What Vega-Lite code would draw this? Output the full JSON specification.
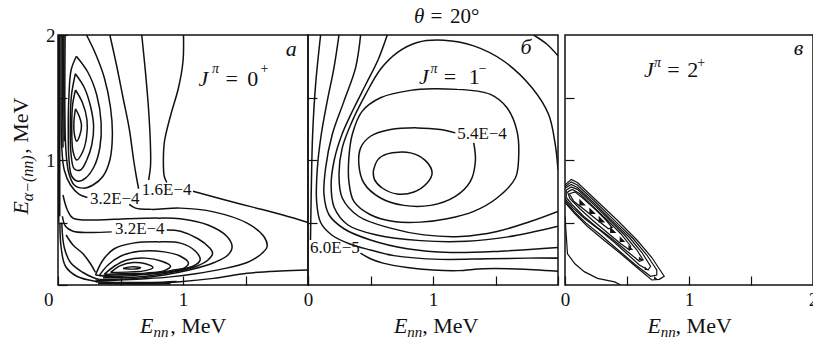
{
  "$schema": "https://vega.github.io/schema/vega-lite/v6.json",
  "background": "white",
  "padding": {"left": 8, "top": 4, "right": 0, "bottom": 0},
  "config": {
    "view": {"stroke": "#111", "strokeWidth": 1.5},
    "axis": {"domain": false, "grid": false, "tickColor": "#111", "tickWidth": 1.2, "labelFont": "Liberation Serif", "labelFontSize": 19, "labelColor": "#111"}
  },
  "datasets": {
    "la": [
      {"c":"C1","x":0.14,"y":1.41},{"c":"C1","x":0.17,"y":1.35},{"c":"C1","x":0.188,"y":1.28},{"c":"C1","x":0.175,"y":1.2},{"c":"C1","x":0.15,"y":1.15},{"c":"C1","x":0.132,"y":1.2},{"c":"C1","x":0.127,"y":1.3},{"c":"C1","x":0.14,"y":1.41},
      {"c":"C2","x":0.14,"y":1.56},{"c":"C2","x":0.195,"y":1.46},{"c":"C2","x":0.232,"y":1.32},{"c":"C2","x":0.228,"y":1.18},{"c":"C2","x":0.195,"y":1.06},{"c":"C2","x":0.15,"y":1.0},{"c":"C2","x":0.12,"y":1.07},{"c":"C2","x":0.11,"y":1.28},{"c":"C2","x":0.118,"y":1.45},{"c":"C2","x":0.14,"y":1.56},
      {"c":"C3","x":0.139,"y":1.69},{"c":"C3","x":0.21,"y":1.58},{"c":"C3","x":0.26,"y":1.43},{"c":"C3","x":0.285,"y":1.27},{"c":"C3","x":0.27,"y":1.12},{"c":"C3","x":0.23,"y":1.0},{"c":"C3","x":0.18,"y":0.92},{"c":"C3","x":0.13,"y":0.93},{"c":"C3","x":0.104,"y":1.05},{"c":"C3","x":0.098,"y":1.28},{"c":"C3","x":0.108,"y":1.52},{"c":"C3","x":0.139,"y":1.69},
      {"c":"C4","x":0.147,"y":1.83},{"c":"C4","x":0.24,"y":1.7},{"c":"C4","x":0.31,"y":1.52},{"c":"C4","x":0.345,"y":1.3},{"c":"C4","x":0.335,"y":1.1},{"c":"C4","x":0.29,"y":0.95},{"c":"C4","x":0.22,"y":0.855},{"c":"C4","x":0.16,"y":0.83},{"c":"C4","x":0.11,"y":0.87},{"c":"C4","x":0.088,"y":1.0},{"c":"C4","x":0.082,"y":1.25},{"c":"C4","x":0.087,"y":1.5},{"c":"C4","x":0.105,"y":1.72},{"c":"C4","x":0.147,"y":1.83},
      {"c":"C5","x":0.228,"y":2.0},{"c":"C5","x":0.3,"y":1.85},{"c":"C5","x":0.37,"y":1.66},{"c":"C5","x":0.42,"y":1.42},{"c":"C5","x":0.435,"y":1.2},{"c":"C5","x":0.415,"y":1.0},{"c":"C5","x":0.36,"y":0.87},{"c":"C5","x":0.28,"y":0.8},{"c":"C5","x":0.2,"y":0.775},{"c":"C5","x":0.13,"y":0.8},{"c":"C5","x":0.085,"y":0.9},{"c":"C5","x":0.062,"y":1.1},{"c":"C5","x":0.055,"y":1.4},{"c":"C5","x":0.055,"y":1.7},{"c":"C5","x":0.057,"y":2.0},
      {"c":"T1a","x":0.415,"y":2.0},{"c":"T1a","x":0.47,"y":1.75},{"c":"T1a","x":0.52,"y":1.5},{"c":"T1a","x":0.57,"y":1.25},{"c":"T1a","x":0.605,"y":1.0},{"c":"T1a","x":0.628,"y":0.86},{"c":"T1a","x":0.645,"y":0.77},
      {"c":"T1b","x":0.235,"y":0.7},{"c":"T1b","x":0.17,"y":0.725},{"c":"T1b","x":0.1,"y":0.8},{"c":"T1b","x":0.05,"y":0.92},{"c":"T1b","x":0.03,"y":1.1},{"c":"T1b","x":0.025,"y":1.5},{"c":"T1b","x":0.025,"y":2.0},
      {"c":"T2a","x":0.67,"y":2.0},{"c":"T2a","x":0.7,"y":1.7},{"c":"T2a","x":0.725,"y":1.4},{"c":"T2a","x":0.74,"y":1.1},{"c":"T2a","x":0.74,"y":0.95},{"c":"T2a","x":0.725,"y":0.84},
      {"c":"T2b","x":0.57,"y":0.645},{"c":"T2b","x":0.62,"y":0.615},{"c":"T2b","x":0.75,"y":0.605},{"c":"T2b","x":0.977,"y":0.615},{"c":"T2b","x":1.245,"y":0.585},{"c":"T2b","x":1.513,"y":0.495},{"c":"T2b","x":1.647,"y":0.388},{"c":"T2b","x":1.673,"y":0.308},{"c":"T2b","x":1.633,"y":0.254},{"c":"T2b","x":1.513,"y":0.18},{"c":"T2b","x":1.3,"y":0.125},{"c":"T2b","x":1.1,"y":0.09},{"c":"T2b","x":0.9,"y":0.065},{"c":"T2b","x":0.7,"y":0.05},{"c":"T2b","x":0.5,"y":0.04},{"c":"T2b","x":0.38,"y":0.035},{"c":"T2b","x":0.3,"y":0.04},
      {"c":"L16a","x":1.004,"y":2.0},{"c":"L16a","x":1.0,"y":1.79},{"c":"L16a","x":0.964,"y":1.578},{"c":"L16a","x":0.903,"y":1.364},{"c":"L16a","x":0.852,"y":1.15},{"c":"L16a","x":0.843,"y":0.99},{"c":"L16a","x":0.85,"y":0.87},{"c":"L16a","x":0.87,"y":0.82},
      {"c":"L16b","x":1.08,"y":0.75},{"c":"L16b","x":1.3,"y":0.69},{"c":"L16b","x":1.55,"y":0.625},{"c":"L16b","x":1.8,"y":0.56},{"c":"L16b","x":2.0,"y":0.5},
      {"c":"L3","x":0.04,"y":0.72},{"c":"L3","x":0.075,"y":0.6},{"c":"L3","x":0.12,"y":0.535},{"c":"L3","x":0.3,"y":0.52},{"c":"L3","x":0.55,"y":0.53},{"c":"L3","x":0.8,"y":0.535},{"c":"L3","x":0.977,"y":0.53},{"c":"L3","x":1.2,"y":0.48},{"c":"L3","x":1.35,"y":0.39},{"c":"L3","x":1.393,"y":0.307},{"c":"L3","x":1.36,"y":0.24},{"c":"L3","x":1.25,"y":0.18},{"c":"L3","x":1.05,"y":0.12},{"c":"L3","x":0.85,"y":0.08},{"c":"L3","x":0.65,"y":0.055},{"c":"L3","x":0.45,"y":0.045},{"c":"L3","x":0.33,"y":0.045},
      {"c":"L4a","x":0.035,"y":0.55},{"c":"L4a","x":0.06,"y":0.47},{"c":"L4a","x":0.12,"y":0.43},{"c":"L4a","x":0.25,"y":0.42},{"c":"L4a","x":0.43,"y":0.425},
      {"c":"L4b","x":0.87,"y":0.44},{"c":"L4b","x":0.98,"y":0.43},{"c":"L4b","x":1.12,"y":0.37},{"c":"L4b","x":1.21,"y":0.3},{"c":"L4b","x":1.237,"y":0.254},{"c":"L4b","x":1.2,"y":0.2},{"c":"L4b","x":1.08,"y":0.14},{"c":"L4b","x":0.9,"y":0.1},{"c":"L4b","x":0.7,"y":0.07},{"c":"L4b","x":0.5,"y":0.058},{"c":"L4b","x":0.36,"y":0.058},
      {"c":"R5","x":0.3,"y":0.08},{"c":"R5","x":0.36,"y":0.2},{"c":"R5","x":0.45,"y":0.29},{"c":"R5","x":0.6,"y":0.335},{"c":"R5","x":0.8,"y":0.345},{"c":"R5","x":0.98,"y":0.335},{"c":"R5","x":1.1,"y":0.27},{"c":"R5","x":1.137,"y":0.2},{"c":"R5","x":1.08,"y":0.15},{"c":"R5","x":0.9,"y":0.115},{"c":"R5","x":0.7,"y":0.085},{"c":"R5","x":0.5,"y":0.07},{"c":"R5","x":0.38,"y":0.07},{"c":"R5","x":0.3,"y":0.08},
      {"c":"R4","x":0.33,"y":0.075},{"c":"R4","x":0.4,"y":0.16},{"c":"R4","x":0.5,"y":0.23},{"c":"R4","x":0.65,"y":0.27},{"c":"R4","x":0.85,"y":0.265},{"c":"R4","x":0.98,"y":0.23},{"c":"R4","x":1.044,"y":0.174},{"c":"R4","x":1.0,"y":0.13},{"c":"R4","x":0.85,"y":0.1},{"c":"R4","x":0.65,"y":0.085},{"c":"R4","x":0.45,"y":0.08},{"c":"R4","x":0.33,"y":0.075},
      {"c":"R3","x":0.37,"y":0.085},{"c":"R3","x":0.45,"y":0.15},{"c":"R3","x":0.55,"y":0.2},{"c":"R3","x":0.7,"y":0.215},{"c":"R3","x":0.83,"y":0.19},{"c":"R3","x":0.9,"y":0.15},{"c":"R3","x":0.85,"y":0.115},{"c":"R3","x":0.7,"y":0.095},{"c":"R3","x":0.5,"y":0.09},{"c":"R3","x":0.37,"y":0.085},
      {"c":"R2","x":0.42,"y":0.1},{"c":"R2","x":0.5,"y":0.155},{"c":"R2","x":0.6,"y":0.18},{"c":"R2","x":0.7,"y":0.17},{"c":"R2","x":0.76,"y":0.14},{"c":"R2","x":0.7,"y":0.115},{"c":"R2","x":0.58,"y":0.105},{"c":"R2","x":0.42,"y":0.1},
      {"c":"R1","x":0.52,"y":0.132},{"c":"R1","x":0.58,"y":0.145},{"c":"R1","x":0.66,"y":0.14},{"c":"R1","x":0.62,"y":0.128},{"c":"R1","x":0.52,"y":0.132},
      {"c":"BB1","x":0.3,"y":0.025},{"c":"BB1","x":0.5,"y":0.02},{"c":"BB1","x":0.75,"y":0.02},{"c":"BB1","x":0.95,"y":0.028},
      {"c":"BB2","x":0.32,"y":0.012},{"c":"BB2","x":0.6,"y":0.008},{"c":"BB2","x":0.9,"y":0.01},
      {"c":"BL1","x":0.015,"y":0.5},{"c":"BL1","x":0.025,"y":0.3},{"c":"BL1","x":0.06,"y":0.15},{"c":"BL1","x":0.15,"y":0.07},{"c":"BL1","x":0.3,"y":0.03},{"c":"BL1","x":0.5,"y":0.016},{"c":"BL1","x":0.75,"y":0.014},{"c":"BL1","x":0.977,"y":0.026},{"c":"BL1","x":1.245,"y":0.053},{"c":"BL1","x":1.513,"y":0.094},{"c":"BL1","x":1.78,"y":0.112},{"c":"BL1","x":2.0,"y":0.12},
      {"c":"BL2","x":0.03,"y":0.5},{"c":"BL2","x":0.05,"y":0.3},{"c":"BL2","x":0.1,"y":0.18},{"c":"BL2","x":0.2,"y":0.1},{"c":"BL2","x":0.28,"y":0.06},{"c":"BL2","x":0.33,"y":0.045},
      {"c":"BL3","x":0.065,"y":0.4},{"c":"BL3","x":0.12,"y":0.32},{"c":"BL3","x":0.2,"y":0.25},{"c":"BL3","x":0.26,"y":0.17},{"c":"BL3","x":0.3,"y":0.1},
      {"c":"V1","x":0.006,"y":2.0},{"c":"V1","x":0.006,"y":0.5},
      {"c":"V2","x":0.014,"y":2.0},{"c":"V2","x":0.014,"y":0.55},
      {"c":"V3","x":0.038,"y":2.0},{"c":"V3","x":0.037,"y":1.6},{"c":"V3","x":0.04,"y":1.1},
      {"c":"V4","x":0.047,"y":2.0},{"c":"V4","x":0.046,"y":1.6},{"c":"V4","x":0.05,"y":1.15}
    ],
    "lb": [
      {"c":"P1","x":0.522,"y":0.91},{"c":"P1","x":0.559,"y":1.003},{"c":"P1","x":0.634,"y":1.049},{"c":"P1","x":0.82,"y":1.057},{"c":"P1","x":0.94,"y":0.995},{"c":"P1","x":0.993,"y":0.896},{"c":"P1","x":0.953,"y":0.816},{"c":"P1","x":0.847,"y":0.744},{"c":"P1","x":0.714,"y":0.728},{"c":"P1","x":0.594,"y":0.776},{"c":"P1","x":0.532,"y":0.843},{"c":"P1","x":0.522,"y":0.91},
      {"c":"P2","x":1.179,"y":1.217},{"c":"P2","x":1.06,"y":1.244},{"c":"P2","x":0.873,"y":1.257},{"c":"P2","x":0.66,"y":1.244},{"c":"P2","x":0.5,"y":1.19},{"c":"P2","x":0.421,"y":1.097},{"c":"P2","x":0.407,"y":0.963},{"c":"P2","x":0.447,"y":0.816},{"c":"P2","x":0.58,"y":0.696},{"c":"P2","x":0.767,"y":0.637},{"c":"P2","x":0.98,"y":0.637},{"c":"P2","x":1.179,"y":0.709},{"c":"P2","x":1.299,"y":0.829},{"c":"P2","x":1.339,"y":0.99},{"c":"P2","x":1.326,"y":1.137},
      {"c":"P3","x":1.193,"y":1.565},{"c":"P3","x":1.459,"y":1.525},{"c":"P3","x":1.592,"y":1.418},{"c":"P3","x":1.672,"y":1.231},{"c":"P3","x":1.685,"y":1.017},{"c":"P3","x":1.659,"y":0.856},{"c":"P3","x":1.512,"y":0.696},{"c":"P3","x":1.326,"y":0.589},{"c":"P3","x":1.113,"y":0.53},{"c":"P3","x":0.9,"y":0.503},{"c":"P3","x":0.687,"y":0.508},{"c":"P3","x":0.5,"y":0.562},{"c":"P3","x":0.367,"y":0.669},{"c":"P3","x":0.327,"y":0.829},{"c":"P3","x":0.327,"y":1.017},{"c":"P3","x":0.354,"y":1.204},{"c":"P3","x":0.434,"y":1.391},{"c":"P3","x":0.58,"y":1.498},{"c":"P3","x":0.82,"y":1.557},{"c":"P3","x":1.006,"y":1.57},{"c":"P3","x":1.193,"y":1.565},
      {"c":"P4","x":2.0,"y":0.923},{"c":"P4","x":1.978,"y":1.124},{"c":"P4","x":1.925,"y":1.364},{"c":"P4","x":1.792,"y":1.578},{"c":"P4","x":1.565,"y":1.792},{"c":"P4","x":1.326,"y":1.913},{"c":"P4","x":1.086,"y":1.958},{"c":"P4","x":0.873,"y":1.94},{"c":"P4","x":0.714,"y":1.859},{"c":"P4","x":0.58,"y":1.726},{"c":"P4","x":0.461,"y":1.525},{"c":"P4","x":0.354,"y":1.311},{"c":"P4","x":0.274,"y":1.097},{"c":"P4","x":0.248,"y":0.883},{"c":"P4","x":0.274,"y":0.696},{"c":"P4","x":0.407,"y":0.548},{"c":"P4","x":0.66,"y":0.455},{"c":"P4","x":0.927,"y":0.401},{"c":"P4","x":1.219,"y":0.388},{"c":"P4","x":1.512,"y":0.428},{"c":"P4","x":1.778,"y":0.508},{"c":"P4","x":2.0,"y":0.589},
      {"c":"D","x":0.634,"y":2.0},{"c":"D","x":0.56,"y":1.8},{"c":"D","x":0.46,"y":1.6},{"c":"D","x":0.36,"y":1.4},{"c":"D","x":0.27,"y":1.2},{"c":"D","x":0.21,"y":1.0},{"c":"D","x":0.185,"y":0.8},{"c":"D","x":0.21,"y":0.62},{"c":"D","x":0.32,"y":0.48},{"c":"D","x":0.55,"y":0.4},{"c":"D","x":0.9,"y":0.355},{"c":"D","x":1.27,"y":0.35},{"c":"D","x":1.6,"y":0.385},{"c":"D","x":2.0,"y":0.47},
      {"c":"C","x":0.421,"y":2.0},{"c":"C","x":0.381,"y":1.739},{"c":"C","x":0.288,"y":1.471},{"c":"C","x":0.194,"y":1.204},{"c":"C","x":0.141,"y":0.936},{"c":"C","x":0.128,"y":0.722},{"c":"C","x":0.168,"y":0.562},{"c":"C","x":0.288,"y":0.45},{"c":"C","x":0.5,"y":0.36},{"c":"C","x":0.793,"y":0.29},{"c":"C","x":1.14,"y":0.26},{"c":"C","x":1.539,"y":0.27},{"c":"C","x":2.0,"y":0.3},
      {"c":"B","x":0.248,"y":2.0},{"c":"B","x":0.208,"y":1.739},{"c":"B","x":0.154,"y":1.471},{"c":"B","x":0.106,"y":1.204},{"c":"B","x":0.075,"y":0.936},{"c":"B","x":0.069,"y":0.669},{"c":"B","x":0.101,"y":0.5},{"c":"B","x":0.19,"y":0.4},{"c":"B","x":0.33,"y":0.33},{"c":"B","x":0.5,"y":0.28},{"c":"B","x":0.687,"y":0.235},{"c":"B","x":1.06,"y":0.205},{"c":"B","x":1.432,"y":0.21},{"c":"B","x":1.752,"y":0.215},{"c":"B","x":2.0,"y":0.215},
      {"c":"A1","x":0.101,"y":2.0},{"c":"A1","x":0.061,"y":1.605},{"c":"A1","x":0.037,"y":1.204},{"c":"A1","x":0.027,"y":0.803},{"c":"A1","x":0.022,"y":0.5},{"c":"A1","x":0.02,"y":0.36},
      {"c":"A2","x":0.42,"y":0.255},{"c":"A2","x":0.5,"y":0.21},{"c":"A2","x":0.6,"y":0.175},{"c":"A2","x":0.793,"y":0.14},{"c":"A2","x":1.0,"y":0.12},{"c":"A2","x":1.2,"y":0.115},{"c":"A2","x":1.406,"y":0.13},{"c":"A2","x":1.672,"y":0.128},{"c":"A2","x":2.0,"y":0.11},
      {"c":"K","x":1.805,"y":2.0},{"c":"K","x":1.912,"y":1.926},{"c":"K","x":2.0,"y":1.833}
    ],
    "lc": [
      {"c":"g1","x":0.0,"y":0.8},{"c":"g1","x":0.05,"y":0.845},{"c":"g1","x":0.1,"y":0.82},{"c":"g1","x":0.26,"y":0.67},{"c":"g1","x":0.42,"y":0.52},{"c":"g1","x":0.58,"y":0.36},{"c":"g1","x":0.7,"y":0.22},{"c":"g1","x":0.78,"y":0.1},{"c":"g1","x":0.8,"y":0.07},{"c":"g1","x":0.76,"y":0.045},{"c":"g1","x":0.7,"y":0.04},{"c":"g1","x":0.58,"y":0.14},{"c":"g1","x":0.45,"y":0.25},{"c":"g1","x":0.3,"y":0.37},{"c":"g1","x":0.18,"y":0.47},{"c":"g1","x":0.08,"y":0.57},{"c":"g1","x":0.0,"y":0.66},
      {"c":"g2","x":0.0,"y":0.785},{"c":"g2","x":0.05,"y":0.825},{"c":"g2","x":0.1,"y":0.8},{"c":"g2","x":0.25,"y":0.66},{"c":"g2","x":0.4,"y":0.515},{"c":"g2","x":0.55,"y":0.37},{"c":"g2","x":0.66,"y":0.24},{"c":"g2","x":0.74,"y":0.12},{"c":"g2","x":0.74,"y":0.08},{"c":"g2","x":0.69,"y":0.07},{"c":"g2","x":0.57,"y":0.16},{"c":"g2","x":0.44,"y":0.27},{"c":"g2","x":0.3,"y":0.39},{"c":"g2","x":0.17,"y":0.495},{"c":"g2","x":0.07,"y":0.59},{"c":"g2","x":0.0,"y":0.675},
      {"c":"g3","x":0.0,"y":0.775},{"c":"g3","x":0.05,"y":0.805},{"c":"g3","x":0.1,"y":0.78},{"c":"g3","x":0.24,"y":0.65},{"c":"g3","x":0.38,"y":0.515},{"c":"g3","x":0.52,"y":0.38},{"c":"g3","x":0.62,"y":0.26},{"c":"g3","x":0.69,"y":0.15},{"c":"g3","x":0.67,"y":0.12},{"c":"g3","x":0.6,"y":0.16},{"c":"g3","x":0.5,"y":0.25},{"c":"g3","x":0.4,"y":0.34},{"c":"g3","x":0.28,"y":0.44},{"c":"g3","x":0.16,"y":0.53},{"c":"g3","x":0.06,"y":0.62},{"c":"g3","x":0.0,"y":0.69},
      {"c":"g4","x":0.01,"y":0.76},{"c":"g4","x":0.05,"y":0.785},{"c":"g4","x":0.1,"y":0.765},{"c":"g4","x":0.23,"y":0.645},{"c":"g4","x":0.36,"y":0.52},{"c":"g4","x":0.48,"y":0.4},{"c":"g4","x":0.58,"y":0.28},{"c":"g4","x":0.63,"y":0.2},{"c":"g4","x":0.6,"y":0.19},{"c":"g4","x":0.5,"y":0.27},{"c":"g4","x":0.38,"y":0.37},{"c":"g4","x":0.26,"y":0.46},{"c":"g4","x":0.15,"y":0.55},{"c":"g4","x":0.06,"y":0.64},{"c":"g4","x":0.01,"y":0.7},{"c":"g4","x":0.01,"y":0.76},
      {"c":"g5","x":0.02,"y":0.745},{"c":"g5","x":0.06,"y":0.765},{"c":"g5","x":0.12,"y":0.73},{"c":"g5","x":0.22,"y":0.635},{"c":"g5","x":0.34,"y":0.52},{"c":"g5","x":0.45,"y":0.41},{"c":"g5","x":0.53,"y":0.31},{"c":"g5","x":0.52,"y":0.28},{"c":"g5","x":0.45,"y":0.33},{"c":"g5","x":0.34,"y":0.42},{"c":"g5","x":0.22,"y":0.52},{"c":"g5","x":0.12,"y":0.61},{"c":"g5","x":0.04,"y":0.69},{"c":"g5","x":0.02,"y":0.745},
      {"c":"g6","x":0.035,"y":0.73},{"c":"g6","x":0.08,"y":0.745},{"c":"g6","x":0.15,"y":0.69},{"c":"g6","x":0.25,"y":0.6},{"c":"g6","x":0.33,"y":0.52},{"c":"g6","x":0.38,"y":0.46},{"c":"g6","x":0.35,"y":0.45},{"c":"g6","x":0.26,"y":0.52},{"c":"g6","x":0.16,"y":0.6},{"c":"g6","x":0.07,"y":0.67},{"c":"g6","x":0.035,"y":0.73},
      {"c":"g7","x":0.0,"y":0.55},{"c":"g7","x":0.01,"y":0.4},{"c":"g7","x":0.02,"y":0.25},{"c":"g7","x":0.08,"y":0.17},{"c":"g7","x":0.155,"y":0.107},{"c":"g7","x":0.262,"y":0.053},{"c":"g7","x":0.4,"y":0.025},{"c":"g7","x":0.45,"y":0.0}
    ],
    "pc": [
      {"x":0.142,"y":0.663,"s":44},{"x":0.223,"y":0.594,"s":44},{"x":0.298,"y":0.527,"s":44},{"x":0.389,"y":0.441,"s":40},{"x":0.464,"y":0.367,"s":32},{"x":0.531,"y":0.3,"s":24},{"x":0.611,"y":0.214,"s":14},{"x":0.657,"y":0.134,"s":12},{"x":0.732,"y":0.059,"s":12}
    ],
    "ta_r": [
      {"x":1.339,"y":1.592,"t":"=","s":22},{"x":1.513,"y":1.592,"t":"0","s":22},{"x":1.62,"y":1.696,"t":"+","s":14},
      {"x":0.897,"y":-0.383,"t":", MeV","s":22},
      {"x":0.255,"y":0.652,"t":"3.2E−4","s":17},{"x":0.67,"y":0.722,"t":"1.6E−4","s":17},{"x":0.455,"y":0.412,"t":"3.2E−4","s":17}
    ],
    "ta_i": [
      {"x":1.821,"y":1.832,"t":"a","s":22},{"x":1.124,"y":1.592,"t":"J","s":22},{"x":1.232,"y":1.696,"t":"π","s":14},
      {"x":0.656,"y":-0.383,"t":"E","s":22},{"x":0.763,"y":-0.415,"t":"nn","s":15}
    ],
    "ta_rot_r": [
      {"x":-0.243,"y":1.05,"t":", MeV","s":22}
    ],
    "ta_rot_i": [
      {"x":-0.243,"y":0.564,"t":"E","s":22},{"x":-0.204,"y":0.67,"t":"α−(nn)","s":16}
    ],
    "tb_r": [
      {"x":1.086,"y":1.605,"t":"=","s":22},{"x":1.286,"y":1.605,"t":"1","s":22},{"x":1.366,"y":1.696,"t":"−","s":14},
      {"x":0.914,"y":-0.383,"t":", MeV","s":22},
      {"x":1.193,"y":1.168,"t":"5.4E−4","s":17},{"x":0.016,"y":0.26,"t":"6.0E−5","s":17},
      {"x":0.98,"y":2.1,"t":"=","s":21},{"x":1.135,"y":2.1,"t":"20°","s":21}
    ],
    "tb_i": [
      {"x":1.699,"y":1.846,"t":"б","s":22},{"x":0.887,"y":1.605,"t":"J","s":22},{"x":0.98,"y":1.696,"t":"π","s":14},
      {"x":0.687,"y":-0.383,"t":"E","s":22},{"x":0.794,"y":-0.415,"t":"nn","s":15},
      {"x":0.847,"y":2.1,"t":"θ","s":21}
    ],
    "tc_r": [
      {"x":0.825,"y":1.664,"t":"=","s":22},{"x":0.986,"y":1.664,"t":"2","s":22},{"x":1.067,"y":1.744,"t":"+","s":14},
      {"x":0.892,"y":-0.383,"t":", MeV","s":22}
    ],
    "tc_i": [
      {"x":1.845,"y":1.84,"t":"в","s":22},{"x":0.638,"y":1.664,"t":"J","s":22},{"x":0.718,"y":1.744,"t":"π","s":14},
      {"x":0.665,"y":-0.383,"t":"E","s":22},{"x":0.772,"y":-0.415,"t":"nn","s":15}
    ]
  },
  "hconcat": [
    {
      "spacing": 0,
      "bounds": "flush",
      "hconcat": [
        {
          "width": 250,
          "height": 250,
          "layer": [
            {
              "data": {"name": "la"},
              "mark": {"type": "line", "interpolate": "catmull-rom", "clip": true, "strokeWidth": 1.5, "color": "#111"},
              "encoding": {
                "x": {"field": "x", "type": "quantitative", "title": null, "scale": {"domain": [0, 2], "nice": false, "zero": false},
                  "axis": {"values": [0, 0.5, 1, 1.5, 2], "labelExpr": "datum.value == 0 ? '0' : datum.value == 1 ? '1' : ''", "tickSize": -9, "labelPadding": 14, "labelFlush": false,
                    "labelAlign": {"condition": {"test": "datum.value == 0", "value": "right"}, "value": "center"},
                    "labelOffset": {"condition": {"test": "datum.value == 0", "value": -5}, "value": 0}}},
                "y": {"field": "y", "type": "quantitative", "title": null, "scale": {"domain": [0, 2], "nice": false, "zero": false},
                  "axis": {"values": [0, 0.5, 1, 1.5, 2], "labelExpr": "datum.value == 1 ? '1' : datum.value == 2 ? '2' : ''", "tickSize": -9, "labelPadding": 12}},
                "detail": {"field": "c"},
                "order": {"value": null}
              }
            },
            {
              "data": {"name": "ta_r"},
              "mark": {"type": "text", "font": "Liberation Serif", "align": "left", "baseline": "alphabetic", "color": "#111"},
              "encoding": {
                "x": {"field": "x", "type": "quantitative", "scale": {"domain": [0, 2], "nice": false, "zero": false}},
                "y": {"field": "y", "type": "quantitative", "scale": {"domain": [0, 2], "nice": false, "zero": false}},
                "text": {"field": "t"},
                "size": {"field": "s", "type": "quantitative", "scale": null}
              }
            },
            {
              "data": {"name": "ta_i"},
              "mark": {"type": "text", "font": "Liberation Serif", "fontStyle": "italic", "align": "left", "baseline": "alphabetic", "color": "#111"},
              "encoding": {
                "x": {"field": "x", "type": "quantitative", "scale": {"domain": [0, 2], "nice": false, "zero": false}},
                "y": {"field": "y", "type": "quantitative", "scale": {"domain": [0, 2], "nice": false, "zero": false}},
                "text": {"field": "t"},
                "size": {"field": "s", "type": "quantitative", "scale": null}
              }
            },
            {
              "data": {"name": "ta_rot_r"},
              "mark": {"type": "text", "font": "Liberation Serif", "angle": 270, "align": "left", "baseline": "alphabetic", "color": "#111"},
              "encoding": {
                "x": {"field": "x", "type": "quantitative", "scale": {"domain": [0, 2], "nice": false, "zero": false}},
                "y": {"field": "y", "type": "quantitative", "scale": {"domain": [0, 2], "nice": false, "zero": false}},
                "text": {"field": "t"},
                "size": {"field": "s", "type": "quantitative", "scale": null}
              }
            },
            {
              "data": {"name": "ta_rot_i"},
              "mark": {"type": "text", "font": "Liberation Serif", "fontStyle": "italic", "angle": 270, "align": "left", "baseline": "alphabetic", "color": "#111"},
              "encoding": {
                "x": {"field": "x", "type": "quantitative", "scale": {"domain": [0, 2], "nice": false, "zero": false}},
                "y": {"field": "y", "type": "quantitative", "scale": {"domain": [0, 2], "nice": false, "zero": false}},
                "text": {"field": "t"},
                "size": {"field": "s", "type": "quantitative", "scale": null}
              }
            }
          ]
        },
        {
          "width": 250,
          "height": 250,
          "layer": [
            {
              "data": {"name": "lb"},
              "mark": {"type": "line", "interpolate": "catmull-rom", "clip": true, "strokeWidth": 1.5, "color": "#111"},
              "encoding": {
                "x": {"field": "x", "type": "quantitative", "title": null, "scale": {"domain": [0, 2], "nice": false, "zero": false},
                  "axis": {"values": [0, 0.5, 1, 1.5, 2], "labelExpr": "datum.value == 0 ? '0' : datum.value == 1 ? '1' : ''", "tickSize": -9, "labelPadding": 14, "labelFlush": false}},
                "y": {"field": "y", "type": "quantitative", "title": null, "scale": {"domain": [0, 2], "nice": false, "zero": false},
                  "axis": {"values": [0.5, 1, 1.5], "labels": false, "tickSize": -9}},
                "detail": {"field": "c"},
                "order": {"value": null}
              }
            },
            {
              "data": {"name": "tb_r"},
              "mark": {"type": "text", "font": "Liberation Serif", "align": "left", "baseline": "alphabetic", "color": "#111"},
              "encoding": {
                "x": {"field": "x", "type": "quantitative", "scale": {"domain": [0, 2], "nice": false, "zero": false}},
                "y": {"field": "y", "type": "quantitative", "scale": {"domain": [0, 2], "nice": false, "zero": false}},
                "text": {"field": "t"},
                "size": {"field": "s", "type": "quantitative", "scale": null}
              }
            },
            {
              "data": {"name": "tb_i"},
              "mark": {"type": "text", "font": "Liberation Serif", "fontStyle": "italic", "align": "left", "baseline": "alphabetic", "color": "#111"},
              "encoding": {
                "x": {"field": "x", "type": "quantitative", "scale": {"domain": [0, 2], "nice": false, "zero": false}},
                "y": {"field": "y", "type": "quantitative", "scale": {"domain": [0, 2], "nice": false, "zero": false}},
                "text": {"field": "t"},
                "size": {"field": "s", "type": "quantitative", "scale": null}
              }
            }
          ]
        }
      ]
    },
    {
      "width": 248,
      "height": 250,
      "layer": [
        {
          "data": {"name": "lc"},
          "mark": {"type": "line", "interpolate": "linear", "clip": true, "strokeWidth": 1.2, "color": "#111"},
          "encoding": {
            "x": {"field": "x", "type": "quantitative", "title": null, "scale": {"domain": [0, 2], "nice": false, "zero": false},
              "axis": {"values": [0, 0.5, 1, 1.5, 2], "labelExpr": "datum.value == 0 ? '0' : datum.value == 1 ? '1' : datum.value == 2 ? '2' : ''", "tickSize": -9, "labelPadding": 14, "labelFlush": false}},
            "y": {"field": "y", "type": "quantitative", "title": null, "scale": {"domain": [0, 2], "nice": false, "zero": false},
              "axis": {"values": [0.5, 1, 1.5], "labels": false, "tickSize": -9}},
            "detail": {"field": "c"},
            "order": {"value": null}
          }
        },
        {
          "data": {"name": "pc"},
          "mark": {"type": "point", "shape": "M-1,1L-1,-1L1,1Z", "filled": true, "color": "#111", "opacity": 1},
          "encoding": {
            "x": {"field": "x", "type": "quantitative", "scale": {"domain": [0, 2], "nice": false, "zero": false}},
            "y": {"field": "y", "type": "quantitative", "scale": {"domain": [0, 2], "nice": false, "zero": false}},
            "size": {"field": "s", "type": "quantitative", "scale": null}
          }
        },
        {
          "data": {"name": "tc_r"},
          "mark": {"type": "text", "font": "Liberation Serif", "align": "left", "baseline": "alphabetic", "color": "#111"},
          "encoding": {
            "x": {"field": "x", "type": "quantitative", "scale": {"domain": [0, 2], "nice": false, "zero": false}},
            "y": {"field": "y", "type": "quantitative", "scale": {"domain": [0, 2], "nice": false, "zero": false}},
            "text": {"field": "t"},
            "size": {"field": "s", "type": "quantitative", "scale": null}
          }
        },
        {
          "data": {"name": "tc_i"},
          "mark": {"type": "text", "font": "Liberation Serif", "fontStyle": "italic", "align": "left", "baseline": "alphabetic", "color": "#111"},
          "encoding": {
            "x": {"field": "x", "type": "quantitative", "scale": {"domain": [0, 2], "nice": false, "zero": false}},
            "y": {"field": "y", "type": "quantitative", "scale": {"domain": [0, 2], "nice": false, "zero": false}},
            "text": {"field": "t"},
            "size": {"field": "s", "type": "quantitative", "scale": null}
          }
        }
      ]
    }
  ],
  "spacing": -1
}
